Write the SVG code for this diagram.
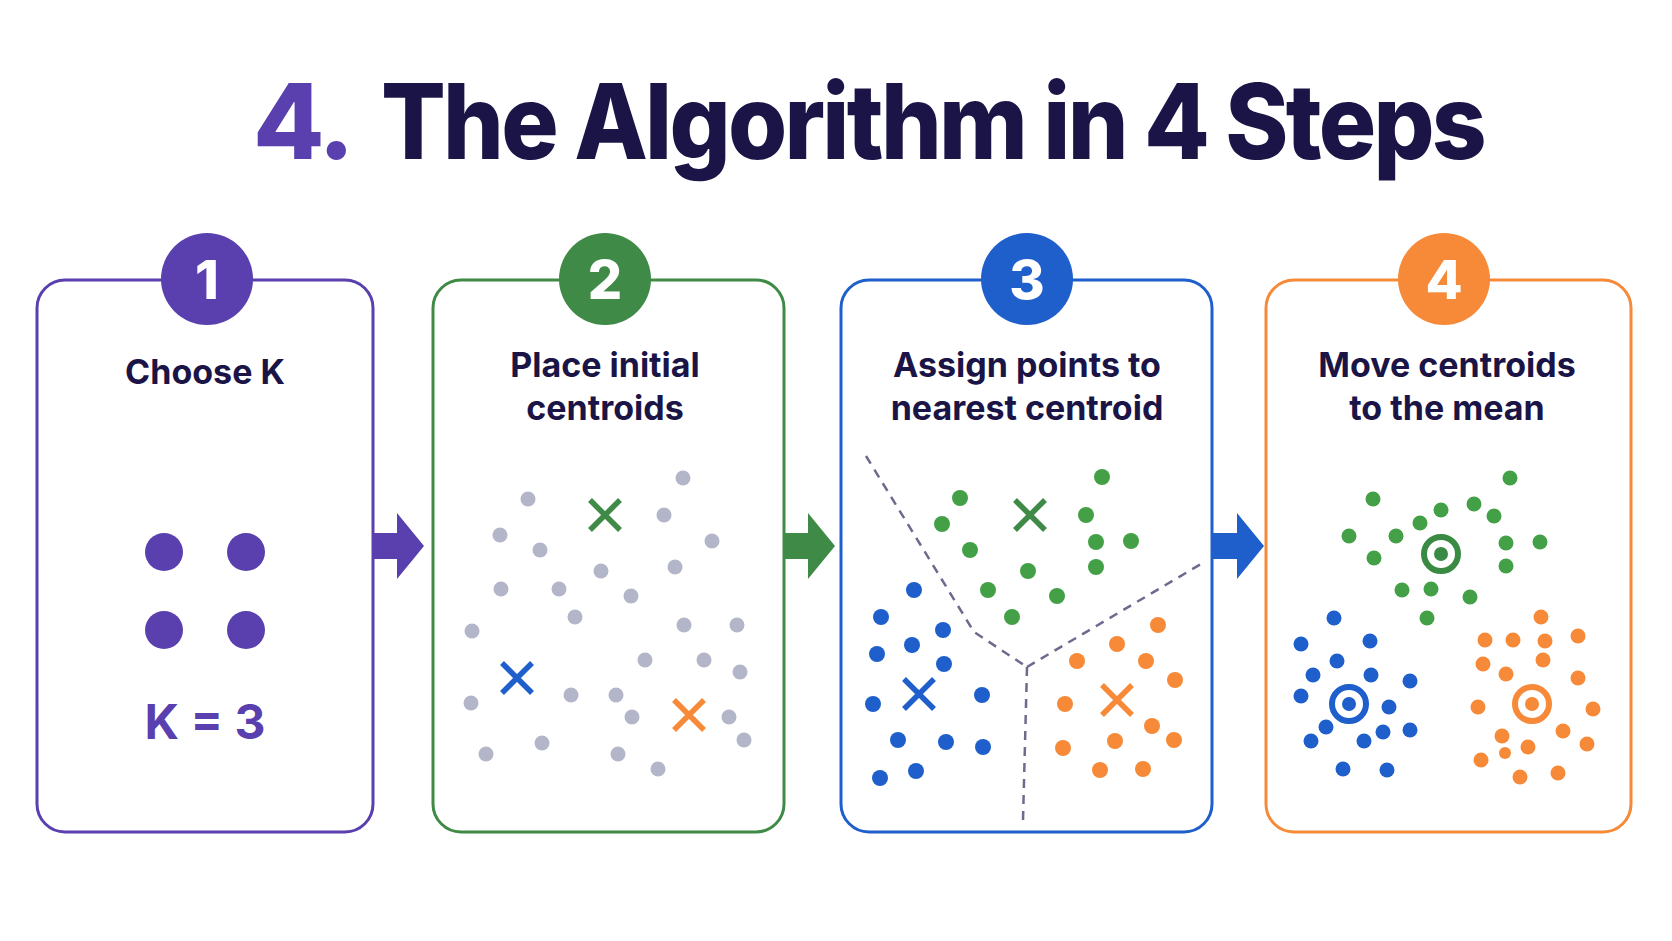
<svg xmlns="http://www.w3.org/2000/svg" width="1672" height="941" viewBox="0 0 1672 941">
<style>
.card{fill:#ffffff;stroke-width:3}
.lbl{font-family:Inter,"Liberation Sans",sans-serif;font-weight:700;font-size:34px;fill:#1b1446;text-anchor:middle}
.num{font-family:Inter,"Liberation Sans",sans-serif;font-weight:800;font-size:54px;fill:#ffffff;text-anchor:middle}
.gray{fill:#b3b5c8}
.g{fill:#43a047}
.b{fill:#1e5fcc}
.o{fill:#f68a38}
.xg{stroke:#3f8a47;stroke-width:5.5;stroke-linecap:butt;fill:none}
.xb{stroke:#1e5fcc;stroke-width:5.5;stroke-linecap:butt;fill:none}
.xo{stroke:#f68a38;stroke-width:5.5;stroke-linecap:butt;fill:none}
</style>
<defs>
<path id="xm" d="M-15,-15 L15,15 M15,-15 L-15,15"/>
</defs>
<rect width="1672" height="941" fill="#ffffff"/>
<g id="title">
<text x="253" y="159" font-family="Inter,'Liberation Sans',sans-serif" font-weight="800" font-size="104" fill="#5a3fae" letter-spacing="-3">4.</text>
<text x="381" y="159" font-family="Inter,'Liberation Sans',sans-serif" font-weight="800" font-size="104" fill="#1b1446" letter-spacing="-3" textLength="1103" lengthAdjust="spacingAndGlyphs">The Algorithm in 4 Steps</text>
</g>
<g id="connectors">
<polygon points="373,533 397,533 397,513 424,546 397,579 397,559 373,559" fill="#5a3fae"/>
<polygon points="784,533 808,533 808,513 835,546 808,579 808,559 784,559" fill="#3f8a47"/>
<polygon points="1212,533 1237,533 1237,513 1264,546 1237,579 1237,559 1212,559" fill="#1e5fcc"/>
</g>
<g id="step1">
<rect class="card" x="37" y="280" width="336" height="552" rx="28" stroke="#5a3fae"/>
<circle cx="207" cy="279" r="46" fill="#5a3fae"/>
<text class="num" x="207" y="299">1</text>
<text class="lbl" x="205" y="384">Choose K</text>
<circle cx="164" cy="552" r="19" fill="#5a3fae"/>
<circle cx="246" cy="552" r="19" fill="#5a3fae"/>
<circle cx="164" cy="630" r="19" fill="#5a3fae"/>
<circle cx="246" cy="630" r="19" fill="#5a3fae"/>
<text x="205" y="739" font-family="Inter,'Liberation Sans',sans-serif" font-weight="700" font-size="48" fill="#5a3fae" text-anchor="middle">K = 3</text>
</g>
<g id="step2">
<rect class="card" x="433" y="280" width="351" height="552" rx="28" stroke="#3f8a47"/>
<circle cx="605" cy="279" r="46" fill="#3f8a47"/>
<text class="num" x="605" y="299">2</text>
<text class="lbl" x="605" y="377">Place initial</text>
<text class="lbl" x="605" y="420">centroids</text>
<g class="gray">
<circle cx="528" cy="499" r="7.5"/><circle cx="683" cy="478" r="7.5"/><circle cx="500" cy="535" r="7.5"/><circle cx="540" cy="550" r="7.5"/>
<circle cx="664" cy="515" r="7.5"/><circle cx="712" cy="541" r="7.5"/><circle cx="601" cy="571" r="7.5"/><circle cx="675" cy="567" r="7.5"/>
<circle cx="501" cy="589" r="7.5"/><circle cx="559" cy="589" r="7.5"/><circle cx="631" cy="596" r="7.5"/><circle cx="575" cy="617" r="7.5"/>
<circle cx="472" cy="631" r="7.5"/><circle cx="684" cy="625" r="7.5"/><circle cx="737" cy="625" r="7.5"/><circle cx="645" cy="660" r="7.5"/>
<circle cx="704" cy="660" r="7.5"/><circle cx="740" cy="672" r="7.5"/><circle cx="471" cy="703" r="7.5"/><circle cx="571" cy="695" r="7.5"/>
<circle cx="616" cy="695" r="7.5"/><circle cx="632" cy="717" r="7.5"/><circle cx="729" cy="717" r="7.5"/><circle cx="744" cy="740" r="7.5"/>
<circle cx="486" cy="754" r="7.5"/><circle cx="542" cy="743" r="7.5"/><circle cx="618" cy="754" r="7.5"/><circle cx="658" cy="769" r="7.5"/>
</g>
<use href="#xm" x="605" y="515" class="xg"/>
<use href="#xm" x="517" y="678" class="xb"/>
<use href="#xm" x="689" y="715" class="xo"/>
</g>
<g id="step3">
<rect class="card" x="841" y="280" width="371" height="552" rx="28" stroke="#1e5fcc"/>
<circle cx="1027" cy="279" r="46" fill="#1e5fcc"/>
<text class="num" x="1027" y="299">3</text>
<text class="lbl" x="1027" y="377">Assign points to</text>
<text class="lbl" x="1027" y="420">nearest centroid</text>
<g fill="none" stroke="#6e6a8e" stroke-width="2.5" stroke-dasharray="9,7">
<polyline points="866,456 974,632 1027,667"/>
<line x1="1027" y1="667" x2="1201" y2="564"/>
<line x1="1027" y1="667" x2="1023" y2="820"/>
</g>
<g class="g">
<circle cx="1102" cy="477" r="8"/><circle cx="960" cy="498" r="8"/><circle cx="942" cy="524" r="8"/><circle cx="1086" cy="515" r="8"/>
<circle cx="970" cy="550" r="8"/><circle cx="1096" cy="542" r="8"/><circle cx="1131" cy="541" r="8"/><circle cx="1028" cy="571" r="8"/>
<circle cx="1096" cy="567" r="8"/><circle cx="988" cy="590" r="8"/><circle cx="1057" cy="596" r="8"/><circle cx="1012" cy="617" r="8"/>
</g>
<g class="b">
<circle cx="914" cy="590" r="8"/><circle cx="881" cy="617" r="8"/><circle cx="943" cy="630" r="8"/><circle cx="912" cy="645" r="8"/>
<circle cx="877" cy="654" r="8"/><circle cx="944" cy="664" r="8"/><circle cx="873" cy="704" r="8"/><circle cx="982" cy="695" r="8"/>
<circle cx="898" cy="740" r="8"/><circle cx="946" cy="742" r="8"/><circle cx="983" cy="747" r="8"/><circle cx="880" cy="778" r="8"/>
<circle cx="916" cy="771" r="8"/>
</g>
<g class="o">
<circle cx="1158" cy="625" r="8"/><circle cx="1117" cy="644" r="8"/><circle cx="1077" cy="661" r="8"/><circle cx="1146" cy="661" r="8"/>
<circle cx="1175" cy="680" r="8"/><circle cx="1065" cy="704" r="8"/><circle cx="1152" cy="726" r="8"/><circle cx="1115" cy="741" r="8"/>
<circle cx="1174" cy="740" r="8"/><circle cx="1063" cy="748" r="8"/><circle cx="1100" cy="770" r="8"/><circle cx="1143" cy="769" r="8"/>
</g>
<use href="#xm" x="1030" y="515" class="xg"/>
<use href="#xm" x="919" y="694" class="xb"/>
<use href="#xm" x="1117" y="700" class="xo"/>
</g>
<g id="step4">
<rect class="card" x="1266" y="280" width="365" height="552" rx="28" stroke="#f68a38"/>
<circle cx="1444" cy="279" r="46" fill="#f68a38"/>
<text class="num" x="1444" y="299">4</text>
<text class="lbl" x="1447" y="377">Move centroids</text>
<text class="lbl" x="1447" y="420">to the mean</text>
<g class="g">
<circle cx="1510" cy="478" r="7.5"/><circle cx="1373" cy="499" r="7.5"/><circle cx="1441" cy="510" r="7.5"/><circle cx="1474" cy="504" r="7.5"/>
<circle cx="1494" cy="516" r="7.5"/><circle cx="1420" cy="523" r="7.5"/><circle cx="1349" cy="536" r="7.5"/><circle cx="1396" cy="536" r="7.5"/>
<circle cx="1506" cy="543" r="7.5"/><circle cx="1540" cy="542" r="7.5"/><circle cx="1374" cy="558" r="7.5"/><circle cx="1506" cy="566" r="7.5"/>
<circle cx="1402" cy="590" r="7.5"/><circle cx="1431" cy="589" r="7.5"/><circle cx="1470" cy="597" r="7.5"/><circle cx="1427" cy="618" r="7.5"/>
</g>
<g class="b">
<circle cx="1334" cy="618" r="7.5"/><circle cx="1301" cy="644" r="7.5"/><circle cx="1370" cy="641" r="7.5"/><circle cx="1337" cy="661" r="7.5"/>
<circle cx="1313" cy="675" r="7.5"/><circle cx="1371" cy="675" r="7.5"/><circle cx="1410" cy="681" r="7.5"/><circle cx="1301" cy="696" r="7.5"/>
<circle cx="1389" cy="707" r="7.5"/><circle cx="1326" cy="727" r="7.5"/><circle cx="1383" cy="732" r="7.5"/><circle cx="1410" cy="730" r="7.5"/>
<circle cx="1311" cy="741" r="7.5"/><circle cx="1364" cy="741" r="7.5"/><circle cx="1343" cy="769" r="7.5"/><circle cx="1387" cy="770" r="7.5"/>
</g>
<g class="o">
<circle cx="1541" cy="617" r="7.5"/><circle cx="1485" cy="640" r="7.5"/><circle cx="1513" cy="640" r="7.5"/><circle cx="1545" cy="641" r="7.5"/>
<circle cx="1578" cy="636" r="7.5"/><circle cx="1483" cy="664" r="7.5"/><circle cx="1543" cy="660" r="7.5"/><circle cx="1506" cy="674" r="7.5"/>
<circle cx="1578" cy="678" r="7.5"/><circle cx="1478" cy="707" r="7.5"/><circle cx="1593" cy="709" r="7.5"/><circle cx="1502" cy="736" r="7.5"/>
<circle cx="1563" cy="731" r="7.5"/><circle cx="1587" cy="744" r="7.5"/><circle cx="1528" cy="747" r="7.5"/><circle cx="1481" cy="760" r="7.5"/>
<circle cx="1505" cy="753" r="6"/><circle cx="1520" cy="777" r="7.5"/><circle cx="1558" cy="773" r="7.5"/>
</g>
<g fill="none" stroke-width="6">
<circle cx="1441" cy="554" r="17" stroke="#3a8a44"/>
<circle cx="1349" cy="704" r="17" stroke="#1e5fcc"/>
<circle cx="1532" cy="704" r="17" stroke="#f68a38"/>
</g>
<circle cx="1441" cy="554" r="7" fill="#3a8a44"/>
<circle cx="1349" cy="704" r="7" fill="#1e5fcc"/>
<circle cx="1532" cy="704" r="7" fill="#f68a38"/>
</g>
</svg>
